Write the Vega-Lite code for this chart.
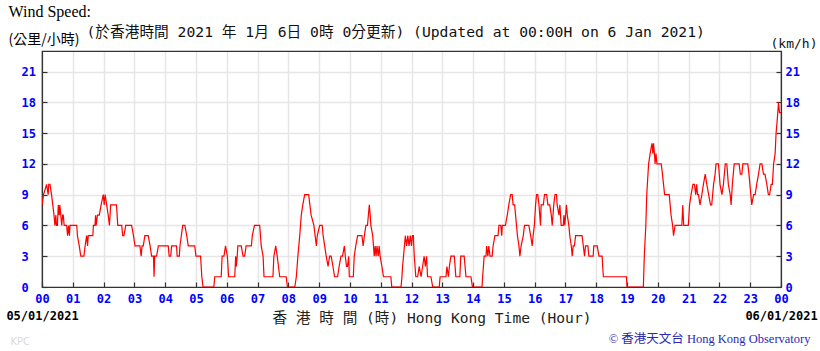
{
  "$schema": "https://vega.github.io/schema/vega-lite/v6.json",
  "width": 739,
  "height": 236,
  "autosize": {"type": "none"},
  "padding": {"left": 42, "top": 51, "right": 39, "bottom": 64},
  "background": "white",
  "config": {"view": {"stroke": "#333333", "strokeWidth": 1.2}},
  "data": {"values": [
    {"hour": 0, "speed": 8}, {"hour": 0.05, "speed": 9}, {"hour": 0.15, "speed": 10}, {"hour": 0.2, "speed": 9}, {"hour": 0.22, "speed": 10}, {"hour": 0.26, "speed": 10}, {"hour": 0.31, "speed": 9}, {"hour": 0.35, "speed": 8}, {"hour": 0.39, "speed": 7}, {"hour": 0.42, "speed": 6}, {"hour": 0.45, "speed": 7}, {"hour": 0.47, "speed": 6}, {"hour": 0.5, "speed": 6}, {"hour": 0.53, "speed": 8}, {"hour": 0.56, "speed": 7}, {"hour": 0.58, "speed": 8}, {"hour": 0.61, "speed": 7}, {"hour": 0.64, "speed": 6}, {"hour": 0.67, "speed": 7}, {"hour": 0.69, "speed": 7}, {"hour": 0.72, "speed": 6}, {"hour": 0.8, "speed": 6}, {"hour": 0.83, "speed": 5}, {"hour": 0.86, "speed": 6}, {"hour": 0.89, "speed": 5}, {"hour": 0.91, "speed": 6}, {"hour": 1.13, "speed": 6}, {"hour": 1.15, "speed": 5}, {"hour": 1.21, "speed": 4}, {"hour": 1.26, "speed": 3}, {"hour": 1.36, "speed": 3}, {"hour": 1.4, "speed": 4}, {"hour": 1.45, "speed": 5}, {"hour": 1.48, "speed": 4}, {"hour": 1.5, "speed": 5}, {"hour": 1.65, "speed": 5}, {"hour": 1.67, "speed": 6}, {"hour": 1.72, "speed": 6}, {"hour": 1.74, "speed": 7}, {"hour": 1.76, "speed": 6}, {"hour": 1.8, "speed": 7}, {"hour": 1.86, "speed": 7}, {"hour": 1.92, "speed": 8}, {"hour": 1.99, "speed": 9}, {"hour": 2.02, "speed": 8}, {"hour": 2.05, "speed": 9}, {"hour": 2.1, "speed": 8}, {"hour": 2.15, "speed": 7}, {"hour": 2.19, "speed": 6}, {"hour": 2.23, "speed": 8}, {"hour": 2.42, "speed": 8}, {"hour": 2.46, "speed": 6}, {"hour": 2.59, "speed": 6}, {"hour": 2.62, "speed": 5}, {"hour": 2.66, "speed": 5}, {"hour": 2.72, "speed": 6}, {"hour": 2.91, "speed": 6}, {"hour": 2.97, "speed": 5}, {"hour": 3.02, "speed": 4}, {"hour": 3.18, "speed": 4}, {"hour": 3.22, "speed": 3}, {"hour": 3.25, "speed": 4}, {"hour": 3.29, "speed": 4}, {"hour": 3.34, "speed": 5}, {"hour": 3.45, "speed": 5}, {"hour": 3.51, "speed": 4}, {"hour": 3.56, "speed": 3}, {"hour": 3.62, "speed": 3}, {"hour": 3.64, "speed": 1}, {"hour": 3.66, "speed": 3}, {"hour": 3.72, "speed": 3}, {"hour": 3.78, "speed": 4}, {"hour": 4.1, "speed": 4}, {"hour": 4.13, "speed": 3}, {"hour": 4.18, "speed": 3}, {"hour": 4.21, "speed": 4}, {"hour": 4.37, "speed": 4}, {"hour": 4.39, "speed": 3}, {"hour": 4.46, "speed": 3}, {"hour": 4.48, "speed": 4}, {"hour": 4.57, "speed": 6}, {"hour": 4.64, "speed": 6}, {"hour": 4.7, "speed": 5}, {"hour": 4.75, "speed": 4},
    {"hour": 4.96, "speed": 4}, {"hour": 5.0, "speed": 3}, {"hour": 5.15, "speed": 3}, {"hour": 5.19, "speed": 1}, {"hour": 5.23, "speed": 0}, {"hour": 5.58, "speed": 0}, {"hour": 5.61, "speed": 1}, {"hour": 5.82, "speed": 1}, {"hour": 5.85, "speed": 3}, {"hour": 5.91, "speed": 3}, {"hour": 5.96, "speed": 4}, {"hour": 6.02, "speed": 3}, {"hour": 6.06, "speed": 1}, {"hour": 6.26, "speed": 1}, {"hour": 6.29, "speed": 3}, {"hour": 6.31, "speed": 2}, {"hour": 6.34, "speed": 3}, {"hour": 6.36, "speed": 4}, {"hour": 6.47, "speed": 4}, {"hour": 6.53, "speed": 3}, {"hour": 6.58, "speed": 3}, {"hour": 6.63, "speed": 4}, {"hour": 6.8, "speed": 4}, {"hour": 6.83, "speed": 5}, {"hour": 6.9, "speed": 6}, {"hour": 7.07, "speed": 6}, {"hour": 7.12, "speed": 4}, {"hour": 7.18, "speed": 3}, {"hour": 7.21, "speed": 1}, {"hour": 7.5, "speed": 1}, {"hour": 7.53, "speed": 3}, {"hour": 7.59, "speed": 4}, {"hour": 7.64, "speed": 3}, {"hour": 7.72, "speed": 1}, {"hour": 7.93, "speed": 1}, {"hour": 7.97, "speed": 0}, {"hour": 8.21, "speed": 0}, {"hour": 8.26, "speed": 1}, {"hour": 8.31, "speed": 3}, {"hour": 8.37, "speed": 5}, {"hour": 8.42, "speed": 7}, {"hour": 8.47, "speed": 8}, {"hour": 8.53, "speed": 9}, {"hour": 8.66, "speed": 9}, {"hour": 8.7, "speed": 8}, {"hour": 8.74, "speed": 7}, {"hour": 8.83, "speed": 6}, {"hour": 8.87, "speed": 5}, {"hour": 8.91, "speed": 4}, {"hour": 8.94, "speed": 5}, {"hour": 9.02, "speed": 6}, {"hour": 9.1, "speed": 6}, {"hour": 9.13, "speed": 5}, {"hour": 9.18, "speed": 4}, {"hour": 9.23, "speed": 3}, {"hour": 9.29, "speed": 2}, {"hour": 9.34, "speed": 3}, {"hour": 9.39, "speed": 3}, {"hour": 9.45, "speed": 2}, {"hour": 9.5, "speed": 1}, {"hour": 9.6, "speed": 1}, {"hour": 9.65, "speed": 2}, {"hour": 9.71, "speed": 3}, {"hour": 9.76, "speed": 3}, {"hour": 9.82, "speed": 4}, {"hour": 9.85, "speed": 3}, {"hour": 9.89, "speed": 2}, {"hour": 9.92, "speed": 2}, {"hour": 9.96, "speed": 3}, {"hour": 9.98, "speed": 1},
    {"hour": 10.11, "speed": 1}, {"hour": 10.14, "speed": 3}, {"hour": 10.19, "speed": 4}, {"hour": 10.25, "speed": 5}, {"hour": 10.39, "speed": 5}, {"hour": 10.43, "speed": 4}, {"hour": 10.47, "speed": 5}, {"hour": 10.52, "speed": 6}, {"hour": 10.57, "speed": 6}, {"hour": 10.63, "speed": 8}, {"hour": 10.66, "speed": 7}, {"hour": 10.68, "speed": 6}, {"hour": 10.74, "speed": 5}, {"hour": 10.79, "speed": 3}, {"hour": 10.82, "speed": 4}, {"hour": 10.85, "speed": 3}, {"hour": 10.88, "speed": 4}, {"hour": 10.92, "speed": 3}, {"hour": 10.95, "speed": 4}, {"hour": 10.98, "speed": 3}, {"hour": 11.04, "speed": 2}, {"hour": 11.09, "speed": 1}, {"hour": 11.33, "speed": 1}, {"hour": 11.36, "speed": 0}, {"hour": 11.66, "speed": 0}, {"hour": 11.69, "speed": 1}, {"hour": 11.71, "speed": 2}, {"hour": 11.77, "speed": 4}, {"hour": 11.8, "speed": 5}, {"hour": 11.84, "speed": 4}, {"hour": 11.88, "speed": 5}, {"hour": 11.92, "speed": 4}, {"hour": 11.96, "speed": 5}, {"hour": 12.0, "speed": 4}, {"hour": 12.03, "speed": 5}, {"hour": 12.06, "speed": 5}, {"hour": 12.09, "speed": 3}, {"hour": 12.14, "speed": 1}, {"hour": 12.2, "speed": 1}, {"hour": 12.25, "speed": 2}, {"hour": 12.31, "speed": 1}, {"hour": 12.36, "speed": 2}, {"hour": 12.41, "speed": 3}, {"hour": 12.45, "speed": 2}, {"hour": 12.49, "speed": 3}, {"hour": 12.52, "speed": 1}, {"hour": 12.63, "speed": 1}, {"hour": 12.69, "speed": 0}, {"hour": 12.9, "speed": 0}, {"hour": 12.93, "speed": 1}, {"hour": 13.12, "speed": 1}, {"hour": 13.15, "speed": 2}, {"hour": 13.2, "speed": 1}, {"hour": 13.23, "speed": 2}, {"hour": 13.28, "speed": 3}, {"hour": 13.39, "speed": 3}, {"hour": 13.44, "speed": 1}, {"hour": 13.57, "speed": 1}, {"hour": 13.6, "speed": 3}, {"hour": 13.71, "speed": 3}, {"hour": 13.77, "speed": 1}, {"hour": 13.93, "speed": 1}, {"hour": 13.98, "speed": 0}, {"hour": 14.29, "speed": 0}, {"hour": 14.31, "speed": 1}, {"hour": 14.36, "speed": 3}, {"hour": 14.42, "speed": 3}, {"hour": 14.44, "speed": 4}, {"hour": 14.48, "speed": 3}, {"hour": 14.51, "speed": 4}, {"hour": 14.55, "speed": 3}, {"hour": 14.62, "speed": 3}, {"hour": 14.65, "speed": 4}, {"hour": 14.71, "speed": 5}, {"hour": 14.81, "speed": 5}, {"hour": 14.84, "speed": 6}, {"hour": 14.9, "speed": 6}, {"hour": 14.93, "speed": 5}, {"hour": 14.95, "speed": 6},
    {"hour": 15.05, "speed": 6}, {"hour": 15.11, "speed": 7}, {"hour": 15.16, "speed": 8}, {"hour": 15.22, "speed": 9}, {"hour": 15.27, "speed": 9}, {"hour": 15.3, "speed": 8}, {"hour": 15.35, "speed": 8}, {"hour": 15.38, "speed": 7}, {"hour": 15.44, "speed": 5}, {"hour": 15.49, "speed": 4}, {"hour": 15.52, "speed": 3}, {"hour": 15.56, "speed": 4}, {"hour": 15.63, "speed": 5}, {"hour": 15.67, "speed": 6}, {"hour": 15.81, "speed": 6}, {"hour": 15.87, "speed": 5}, {"hour": 15.92, "speed": 4}, {"hour": 15.95, "speed": 5}, {"hour": 15.99, "speed": 6}, {"hour": 16.03, "speed": 8}, {"hour": 16.06, "speed": 9}, {"hour": 16.1, "speed": 9}, {"hour": 16.14, "speed": 8}, {"hour": 16.19, "speed": 6}, {"hour": 16.21, "speed": 8}, {"hour": 16.28, "speed": 8}, {"hour": 16.32, "speed": 9}, {"hour": 16.39, "speed": 9}, {"hour": 16.43, "speed": 8}, {"hour": 16.49, "speed": 8}, {"hour": 16.54, "speed": 7}, {"hour": 16.57, "speed": 6}, {"hour": 16.62, "speed": 8}, {"hour": 16.66, "speed": 9}, {"hour": 16.71, "speed": 9}, {"hour": 16.73, "speed": 8}, {"hour": 16.79, "speed": 7}, {"hour": 16.82, "speed": 8}, {"hour": 16.86, "speed": 6}, {"hour": 16.93, "speed": 6}, {"hour": 16.95, "speed": 7}, {"hour": 16.98, "speed": 6}, {"hour": 17.03, "speed": 8}, {"hour": 17.06, "speed": 7}, {"hour": 17.11, "speed": 6}, {"hour": 17.14, "speed": 5}, {"hour": 17.19, "speed": 4}, {"hour": 17.22, "speed": 3}, {"hour": 17.25, "speed": 4}, {"hour": 17.29, "speed": 4}, {"hour": 17.33, "speed": 5}, {"hour": 17.54, "speed": 5}, {"hour": 17.58, "speed": 4}, {"hour": 17.62, "speed": 3}, {"hour": 17.65, "speed": 4}, {"hour": 17.73, "speed": 4}, {"hour": 17.76, "speed": 3}, {"hour": 17.9, "speed": 3}, {"hour": 17.92, "speed": 4}, {"hour": 18.03, "speed": 4}, {"hour": 18.09, "speed": 3}, {"hour": 18.19, "speed": 3}, {"hour": 18.23, "speed": 1}, {"hour": 18.98, "speed": 1}, {"hour": 19.0, "speed": 0}, {"hour": 19.53, "speed": 0}, {"hour": 19.56, "speed": 3}, {"hour": 19.61, "speed": 6}, {"hour": 19.64, "speed": 9}, {"hour": 19.7, "speed": 12}, {"hour": 19.75, "speed": 13}, {"hour": 19.81, "speed": 14}, {"hour": 19.84, "speed": 13}, {"hour": 19.86, "speed": 14}, {"hour": 19.89, "speed": 13}, {"hour": 19.91, "speed": 12}, {"hour": 19.94, "speed": 13}, {"hour": 19.97, "speed": 12},
    {"hour": 20.11, "speed": 12}, {"hour": 20.15, "speed": 11}, {"hour": 20.22, "speed": 9}, {"hour": 20.37, "speed": 9}, {"hour": 20.4, "speed": 8}, {"hour": 20.43, "speed": 7}, {"hour": 20.48, "speed": 6}, {"hour": 20.51, "speed": 5}, {"hour": 20.56, "speed": 6}, {"hour": 20.78, "speed": 6}, {"hour": 20.81, "speed": 8}, {"hour": 20.84, "speed": 6}, {"hour": 20.99, "speed": 6}, {"hour": 21.03, "speed": 8}, {"hour": 21.08, "speed": 9}, {"hour": 21.14, "speed": 10}, {"hour": 21.19, "speed": 10}, {"hour": 21.23, "speed": 9}, {"hour": 21.26, "speed": 10}, {"hour": 21.29, "speed": 9}, {"hour": 21.32, "speed": 9}, {"hour": 21.37, "speed": 8}, {"hour": 21.43, "speed": 9}, {"hour": 21.48, "speed": 10}, {"hour": 21.54, "speed": 11}, {"hour": 21.59, "speed": 10}, {"hour": 21.65, "speed": 9}, {"hour": 21.71, "speed": 8}, {"hour": 21.75, "speed": 8}, {"hour": 21.81, "speed": 10}, {"hour": 21.86, "speed": 11}, {"hour": 21.89, "speed": 12}, {"hour": 21.97, "speed": 12}, {"hour": 22.02, "speed": 10}, {"hour": 22.08, "speed": 9}, {"hour": 22.13, "speed": 10}, {"hour": 22.19, "speed": 12}, {"hour": 22.24, "speed": 12}, {"hour": 22.29, "speed": 10}, {"hour": 22.35, "speed": 9}, {"hour": 22.38, "speed": 8}, {"hour": 22.42, "speed": 10}, {"hour": 22.48, "speed": 12}, {"hour": 22.64, "speed": 12}, {"hour": 22.68, "speed": 11}, {"hour": 22.73, "speed": 11}, {"hour": 22.76, "speed": 12}, {"hour": 22.92, "speed": 12}, {"hour": 22.96, "speed": 11}, {"hour": 23.02, "speed": 9}, {"hour": 23.05, "speed": 8}, {"hour": 23.11, "speed": 9}, {"hour": 23.16, "speed": 9}, {"hour": 23.21, "speed": 10}, {"hour": 23.27, "speed": 11}, {"hour": 23.32, "speed": 12}, {"hour": 23.38, "speed": 12}, {"hour": 23.43, "speed": 11}, {"hour": 23.48, "speed": 11}, {"hour": 23.54, "speed": 10}, {"hour": 23.59, "speed": 9}, {"hour": 23.63, "speed": 9}, {"hour": 23.68, "speed": 10}, {"hour": 23.72, "speed": 10}, {"hour": 23.76, "speed": 12}, {"hour": 23.81, "speed": 13}, {"hour": 23.84, "speed": 15}, {"hour": 23.87, "speed": 16}, {"hour": 23.92, "speed": 18}, {"hour": 23.95, "speed": 17}, {"hour": 24.0, "speed": 17}
  ]},
  "layer": [
    {
      "mark": {"type": "line", "color": "#ff0000", "strokeWidth": 1.2, "clip": true},
      "encoding": {
        "x": {"field": "hour", "type": "quantitative", "scale": {"domain": [0, 24], "nice": false},
          "axis": {"orient": "bottom", "values": [0,1,2,3,4,5,6,7,8,9,10,11,12,13,14,15,16,17,18,19,20,21,22,23,24],
            "labelExpr": "(datum.value % 24 < 10 ? '0' : '') + (datum.value % 24)",
            "labelColor": "#0000ff", "labelFont": "DejaVu Sans Mono", "labelFontWeight": "bold", "labelFontSize": 12,
            "labelPadding": 11, "labelOverlap": false, "labelFlush": false,
            "tickSize": -5, "tickColor": "#333333", "tickWidth": 1.2,
            "domain": true, "domainColor": "#333333", "domainWidth": 1.2,
            "grid": true, "gridWidth": 1.5,
            "gridColor": {"condition": {"test": "datum.value == 0 || datum.value == 24", "value": "transparent"}, "value": "#e6e6e6"},
            "title": "香 港 時 間 (時) Hong Kong Time (Hour)", "titleX": 230, "titleY": 31, "titleAlign": "left", "titleBaseline": "middle",
            "titleFont": "DejaVu Sans Mono, Noto Sans CJK TC", "titleFontSize": 14.6, "titleFontWeight": "normal", "titleColor": "#222222"}},
        "y": {"field": "speed", "type": "quantitative", "scale": {"domain": [0, 23], "nice": false},
          "axis": {"orient": "left", "values": [0,3,6,9,12,15,18,21],
            "labelColor": "#0000ff", "labelFont": "DejaVu Sans Mono", "labelFontWeight": "bold", "labelFontSize": 12,
            "labelAlign": "left", "labelBaseline": "middle", "labelPadding": 26,
            "tickSize": -5, "tickColor": "#333333", "tickWidth": 1.2,
            "domain": true, "domainColor": "#333333", "domainWidth": 1.2,
            "grid": true, "gridWidth": 1.5,
            "gridColor": {"condition": {"test": "datum.value == 0", "value": "transparent"}, "value": "#e6e6e6"},
            "title": "(公里/小時)", "titleAngle": 0, "titleX": -34, "titleY": -12, "titleAlign": "left", "titleBaseline": "middle",
            "titleFont": "Noto Sans CJK TC", "titleFontSize": 14, "titleFontWeight": "normal", "titleColor": "#000000"}}
      }
    },
    {
      "mark": {"type": "line", "opacity": 0},
      "encoding": {
        "x": {"field": "hour", "type": "quantitative",
          "axis": {"orient": "top", "labels": false, "ticks": false, "domain": true, "domainColor": "#333333", "domainWidth": 1.2, "grid": false,
            "title": "(於香港時間 2021 年 1月 6日 0時 0分更新) (Updated at 00:00H on 6 Jan 2021)", "titleX": 44, "titleY": -19, "titleAlign": "left", "titleBaseline": "middle", "titleAngle": 0,
            "titleFont": "DejaVu Sans Mono, Noto Sans CJK TC", "titleFontSize": 14.7, "titleFontWeight": "normal", "titleColor": "#111111"}},
        "y": {"field": "speed", "type": "quantitative",
          "axis": {"orient": "right", "values": [0,3,6,9,12,15,18,21],
            "labelColor": "#0000ff", "labelFont": "DejaVu Sans Mono", "labelFontWeight": "bold", "labelFontSize": 12,
            "labelAlign": "left", "labelBaseline": "middle", "labelPadding": 9,
            "tickSize": -5, "tickColor": "#333333", "tickWidth": 1.2,
            "domain": true, "domainColor": "#333333", "domainWidth": 1.2, "grid": false,
            "title": "(km/h)", "titleAngle": 0, "titleX": -11, "titleY": -8, "titleAlign": "left", "titleBaseline": "middle",
            "titleFont": "DejaVu Sans Mono", "titleFontSize": 13, "titleFontWeight": "normal", "titleColor": "#111111"}}
      }
    },
    {
      "mark": {"type": "line", "opacity": 0},
      "encoding": {
        "x": {"field": "hour", "type": "quantitative",
          "axis": {"orient": "bottom", "values": [0, 24], "labelExpr": "datum.value == 0 ? '05/01/2021' : '06/01/2021'",
            "labelColor": "#000000", "labelFont": "DejaVu Sans Mono", "labelFontWeight": "bold", "labelFontSize": 12,
            "labelPadding": 23, "labelOverlap": false, "labelFlush": false,
            "ticks": false, "domain": false, "grid": false,
            "title": "© 香港天文台 Hong Kong Observatory", "titleX": 768, "titleY": 51, "titleAlign": "right", "titleBaseline": "middle",
            "titleFont": "Liberation Serif, Noto Sans CJK TC", "titleFontSize": 12.5, "titleFontWeight": "normal", "titleColor": "#2a2ab0"}},
        "y": {"field": "speed", "type": "quantitative",
          "axis": {"orient": "left", "labels": false, "ticks": false, "domain": false, "grid": false,
            "title": "KPC", "titleAngle": 0, "titleX": -32, "titleY": 290, "titleAlign": "left", "titleBaseline": "middle",
            "titleFont": "DejaVu Sans", "titleFontSize": 10, "titleFontWeight": "normal", "titleColor": "#d9d9d9"}}
      }
    },
    {
      "mark": {"type": "line", "opacity": 0},
      "encoding": {
        "x": {"field": "hour", "type": "quantitative", "axis": null},
        "y": {"field": "speed", "type": "quantitative",
          "axis": {"orient": "left", "labels": false, "ticks": false, "domain": false, "grid": false,
            "title": "Wind Speed:", "titleAngle": 0, "titleX": -34, "titleY": -40, "titleAlign": "left", "titleBaseline": "middle",
            "titleFont": "Liberation Serif", "titleFontSize": 16, "titleFontWeight": "normal", "titleColor": "#000000"}}
      }
    }
  ],
  "resolve": {"axis": {"x": "independent", "y": "independent"}}
}
